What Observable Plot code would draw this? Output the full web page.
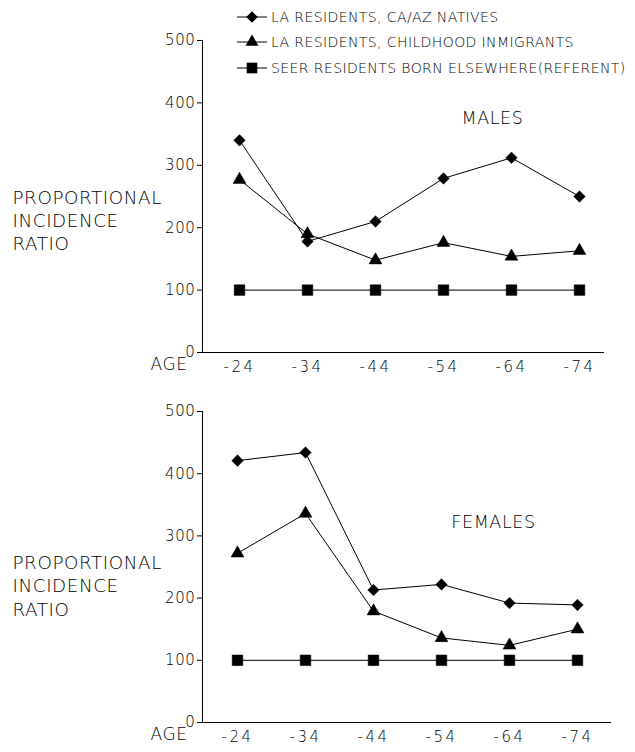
<!DOCTYPE html>
<html>
<head>
<meta charset="utf-8">
<script src="https://cdn.jsdelivr.net/npm/d3@7"></script>
<script src="https://cdn.jsdelivr.net/npm/@observablehq/plot@0.6"></script>
<style>
  body { margin: 0; background: #fff; }
  #wrap { position: relative; width: 635px; height: 752px; font-family: "DejaVu Sans", sans-serif; font-weight: 200; }
  #wrap svg.plot, #wrap figure { margin: 0; display: block; }
  #legend { position: absolute; left: 236px; top: 4px; }
  .lrow { display: flex; align-items: center; height: 25.5px; font-size: 14px; letter-spacing: 0.4px; color: #000; white-space: nowrap; }
  .lrow svg { display: block; margin-right: 3px; }
  g[aria-label="x-axis tick label"] { letter-spacing: 2.5px; }
</style>
</head>
<body>
<div id="wrap">
  <div id="charts"></div>
  <div id="legend"></div>
</div>
<script>
// ---- data ----
const ages = ["-24", "-34", "-44", "-54", "-64", "-74"];
const seriesNames = [
  "LA RESIDENTS, CA/AZ NATIVES",
  "LA RESIDENTS, CHILDHOOD INMIGRANTS",
  "SEER RESIDENTS BORN ELSEWHERE(REFERENT)"
];
const seriesSymbols = ["diamond2", "triangle", "square"];
const yTicks = [0, 100, 200, 300, 400, 500];

const maleNatives    = [340, 178, 210, 279, 312, 250];
const maleImmigrants = [277, 190, 148, 176, 154, 163];
const maleReferent   = [100, 100, 100, 100, 100, 100];

const femaleNatives    = [421, 434, 213, 222, 192, 189];
const femaleImmigrants = [272, 336, 179, 136, 124, 150];
const femaleReferent   = [100, 100, 100, 100, 100, 100];

const yLabel = "PROPORTIONAL\nINCIDENCE\nRATIO";
const xLabel = "AGE";
const panelTitles = ["MALES", "FEMALES"];

// ---- styling ----
const FONT = "'DejaVu Sans', sans-serif";
const radii = [5.2, 4.8, 6.0];
const d3Symbols = { diamond2: d3.symbolDiamond2, triangle: d3.symbolTriangle, square: d3.symbolSquare };

function panel(cfg) {
  const rows = seriesNames.flatMap((s, i) =>
    ages.map((a, j) => ({ age: a, value: cfg.values[i][j], series: s })));
  const dots = seriesNames.map((s, i) =>
    Plot.dot(rows.filter(d => d.series === s), {
      x: "age", y: "value", symbol: "series", fill: "black", stroke: "black", strokeWidth: 0.5, r: radii[i]
    }));
  return Plot.plot({
    width: 635,
    height: cfg.height,
    marginLeft: 202,
    marginRight: cfg.marginRight,
    marginTop: cfg.marginTop,
    marginBottom: cfg.marginBottom,
    style: { fontFamily: FONT, fontSize: "15px", letterSpacing: "0.6px", color: "black", background: "white", overflow: "visible", fontWeight: 200 },
    x: { type: "point", domain: ages, range: cfg.xRange, padding: 0 },
    y: { domain: [0, 500] },
    symbol: { domain: seriesNames, range: seriesSymbols },
    marks: [
      Plot.frame({ anchor: "left", stroke: "black", strokeWidth: 1 }),
      Plot.frame({ anchor: "bottom", stroke: "black", strokeWidth: 1 }),
      Plot.axisY(yTicks, { tickSize: 5, tickPadding: 2, label: null, stroke: "black", strokeWidth: 1 }),
      Plot.axisX({ tickSize: 0, tickPadding: 9, label: null }),
      Plot.line(rows, { x: "age", y: "value", z: "series", stroke: "black", strokeWidth: 1 }),
      ...dots,
      Plot.text([cfg.title], { text: d => d, frameAnchor: "top-right", dx: cfg.titleDx, dy: cfg.titleDy, fontSize: 17.5, textAnchor: "middle", fill: "black" }),
      Plot.text([yLabel], { text: d => d, frameAnchor: "left", textAnchor: "start", dx: -190, dy: cfg.yLabelDy, lineHeight: 1.27, fontSize: 18.3, fill: "black" }),
      Plot.text([xLabel], { text: d => d, frameAnchor: "bottom-left", textAnchor: "start", dx: -52, dy: 17, fontSize: 17, fill: "black" })
    ]
  });
}

const charts = document.getElementById("charts");
charts.append(panel({
  values: [maleNatives, maleImmigrants, maleReferent],
  title: panelTitles[0],
  height: 376, marginTop: 40, marginBottom: 24, marginRight: 32,
  xRange: [237, 580],
  titleDx: -111, titleDy: 71, yLabelDy: 23
}));
charts.append(panel({
  values: [femaleNatives, femaleImmigrants, femaleReferent],
  title: panelTitles[1],
  height: 376, marginTop: 35, marginBottom: 30, marginRight: 25,
  xRange: [236, 577],
  titleDx: -117, titleDy: 104, yLabelDy: 18
}));

// ---- legend ----
const legend = document.getElementById("legend");
seriesNames.forEach((name, i) => {
  const row = document.createElement("div");
  row.className = "lrow";
  const size = Math.PI * radii[i] * radii[i];
  const path = d3.symbol(d3Symbols[seriesSymbols[i]], size)();
  row.innerHTML =
    `<svg width="32" height="16"><line x1="1" x2="31" y1="8" y2="8" stroke="black" stroke-width="1"/>` +
    `<path transform="translate(16,8)" d="${path}" fill="black"/></svg><span>${name}</span>`;
  legend.append(row);
});
</script>
</body>
</html>
